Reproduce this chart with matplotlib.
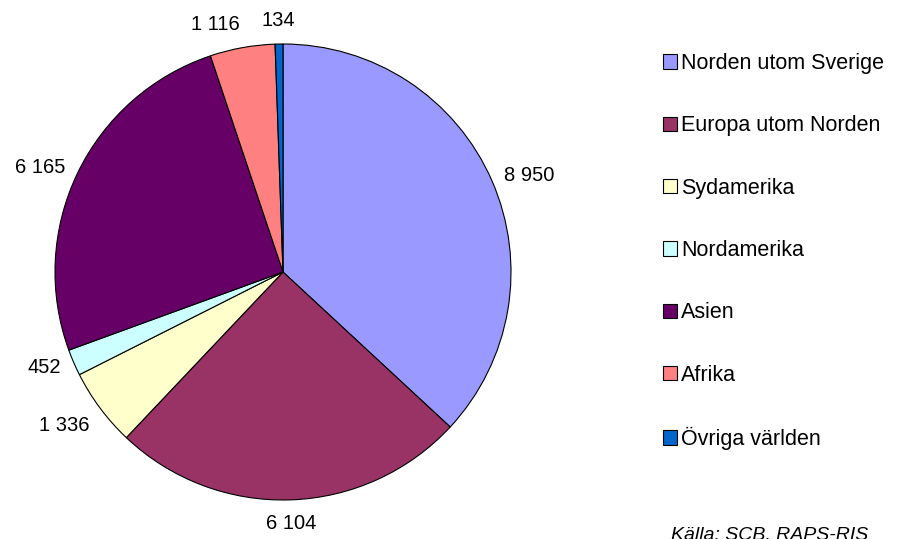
import numpy as np
import matplotlib.pyplot as plt
from matplotlib.patches import Patch

plt.rcParams['font.family'] = ['Liberation Sans', 'DejaVu Sans']

# data
regions = ['Norden utom Sverige', 'Europa utom Norden', 'Sydamerika',
           'Nordamerika', 'Asien', 'Afrika', 'Övriga världen']
counts = [8950, 6104, 1336, 452, 6165, 1116, 134]
colors = ['#9999FF', '#993366', '#FFFFCC', '#CCFFFF', '#660066', '#FF8080', '#0066CC']

W, H = 898, 539
fig = plt.figure(figsize=(W / 100, H / 100), dpi=100)
ax = fig.add_axes([0, 0, 1, 1])

cx, cy, R = 283, H - 272, 228
wedges, _ = ax.pie(counts, colors=colors, startangle=90, counterclock=False,
                   center=(cx, cy), radius=R, frame=True,
                   wedgeprops=dict(edgecolor='black', linewidth=0.8))
ax.set_xlim(0, W)
ax.set_ylim(0, H)
ax.set_aspect('auto')
ax.axis('off')

# value labels outside the slices
for w, v in zip(wedges, counts):
    ang = np.deg2rad((w.theta1 + w.theta2) / 2)
    c, s = np.cos(ang), np.sin(ang)
    x, y = cx + 1.06 * R * c, cy + 1.06 * R * s
    ha = 'left' if c > 0.15 else ('right' if c < -0.15 else 'center')
    va = 'bottom' if s > 0.5 else ('top' if s < -0.5 else 'center')
    ax.text(x, y, f'{v:,}'.replace(',', ' '), ha=ha, va=va, fontsize=14.5)

handles = [Patch(facecolor=col, edgecolor='black', linewidth=0.8) for col in colors]
fig.legend(handles, regions, loc='upper left', bbox_to_anchor=(663 / W, 1 - 53 / H),
           frameon=False, fontsize=15.5, handlelength=0.65, handleheight=0.65,
           handletextpad=0.2, labelspacing=1.92, borderpad=0, borderaxespad=0)

# source note, cut at the bottom edge as in the original
fig.text(671 / W, 1 - 526 / H, 'Källa: SCB, RAPS-RIS', style='italic',
         fontsize=14, ha='left', va='top')

plt.savefig('out.png', dpi=100)
